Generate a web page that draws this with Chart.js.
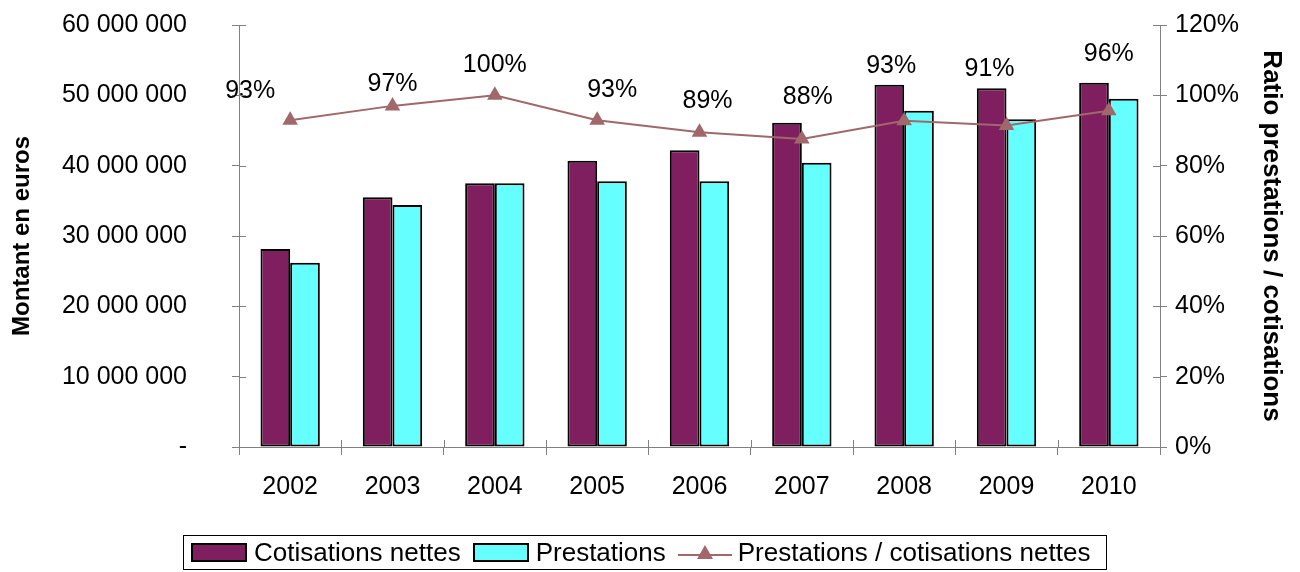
<!DOCTYPE html>
<html>
<head>
<meta charset="utf-8">
<script src="https://cdn.jsdelivr.net/npm/chart.js@4.4.1/dist/chart.umd.min.js"></script>
<style>
    body { margin: 0; background: #fff; font-family: "Liberation Sans", Arial, sans-serif; }
    #wrap { position: relative; width: 1300px; height: 572px; }
    #legend {
        position: absolute; left: 183px; top: 535px; width: 924px; height: 35px;
        border: 1px solid #000; display: flex; align-items: center;
        font-size: 26px; color: #000; box-sizing: border-box;
    }
    .sw { display: inline-block; width: 52px; height: 15px; border: 2px solid #000; margin: 0 7px 0 8px; }
</style>
</head>
<body>
<div id="wrap">
    <canvas id="chart" width="1300" height="572"></canvas>
    <div id="legend">
        <span class="sw" style="background:#7F1F5F;margin-left:7px"></span><span>Cotisations nettes</span>
        <span class="sw" style="background:#66FFFF;margin-left:12px"></span><span>Prestations</span>
        <svg width="56" height="22" style="margin:0 4px 0 12px"><line x1="0" y1="13" x2="54" y2="13" stroke="#A0686A" stroke-width="2"/><polygon points="27,3 35,17 19,17" fill="#A0686A"/></svg><span>Prestations / cotisations nettes</span>
    </div>
</div>
<script>
    // data
    const years = ['2002', '2003', '2004', '2005', '2006', '2007', '2008', '2009', '2010'];
    const cotisations = [28150000, 35500000, 37500000, 40700000, 42200000, 46100000, 51500000, 51000000, 51800000];
    const prestations = [26200000, 34400000, 37500000, 37800000, 37800000, 40400000, 47800000, 46600000, 49500000];
    const ratio = [92.9, 97.0, 100.0, 92.9, 89.5, 87.6, 92.8, 91.4, 95.6];
    const ratioLabels = ['93%', '97%', '100%', '93%', '89%', '88%', '93%', '91%', '96%'];

    // where the hand-placed labels sit relative to their point
    const labelOffsets = [[-40, -29], [0, -22], [0, -30], [15, -30], [8, -31], [6, -42], [-13, -55], [-17, -56], [0, -57]];

    const FONT = '"Liberation Sans", Arial, sans-serif';
    const lineColor = '#A0686A';

    function spaced(v) {
        if (v === 0) return '-';
        return String(v).replace(/\B(?=(\d{3})+(?!\d))/g, ' ');
    }

    // fixed axis widths, no extra padding from tick labels
    function fixY(width) {
        return s => {
            s.width = width;
            s.paddingTop = 0;
            s.paddingBottom = 0;
        };
    }

    // percent labels above the line + ticks that cross the axes
    const extras = {
        id: 'extras',
        afterDatasetsDraw(chart) {
            const ctx = chart.ctx;
            const meta = chart.getDatasetMeta(2);
            ctx.save();
            ctx.fillStyle = '#000';
            ctx.font = '25px ' + FONT;
            ctx.textAlign = 'center';
            ctx.textBaseline = 'middle';
            meta.data.forEach((pt, i) => {
                ctx.fillText(ratioLabels[i], pt.x + labelOffsets[i][0], pt.y + labelOffsets[i][1]);
            });

            ctx.strokeStyle = '#808080';
            ctx.lineWidth = 1;
            const y = chart.scales.y, y1 = chart.scales.y1, x = chart.scales.x;
            ctx.beginPath();
            y.ticks.forEach((t, i) => {
                const p = Math.round(y.getPixelForTick(i)) + 0.5;
                ctx.moveTo(y.right, p); ctx.lineTo(y.right + 7, p);
            });
            y1.ticks.forEach((t, i) => {
                const p = Math.round(y1.getPixelForTick(i)) + 0.5;
                ctx.moveTo(y1.left - 7, p); ctx.lineTo(y1.left, p);
            });
            const step = (x.right - x.left) / years.length;
            for (let i = 0; i <= years.length; i++) {
                const p = Math.round(x.left + i * step) + 0.5;
                ctx.moveTo(p, x.top - 7); ctx.lineTo(p, x.top);
            }
            ctx.stroke();
            ctx.restore();
        }
    };

    const ctx = document.getElementById('chart').getContext('2d');
    const chart = new Chart(ctx, {
        type: 'bar',
        data: {
            labels: years,
            datasets: [{
                label: 'Cotisations nettes',
                data: cotisations,
                backgroundColor: '#7F1F5F',
                borderColor: '#000',
                borderWidth: 2,
                borderSkipped: false,
                categoryPercentage: 0.58,
                barPercentage: 1.0,
                yAxisID: 'y',
                order: 1
            }, {
                label: 'Prestations',
                data: prestations,
                backgroundColor: '#66FFFF',
                borderColor: '#000',
                borderWidth: 2,
                borderSkipped: false,
                categoryPercentage: 0.58,
                barPercentage: 1.0,
                yAxisID: 'y',
                order: 1
            }, {
                type: 'line',
                label: 'Prestations / cotisations nettes',
                data: ratio,
                borderColor: lineColor,
                borderWidth: 2,
                backgroundColor: lineColor,
                pointStyle: 'triangle',
                pointRadius: 9,
                pointBorderWidth: 0,
                tension: 0,
                yAxisID: 'y1',
                order: 0
            }]
        },
        options: {
            responsive: false,
            animation: false,
            layout: { padding: { top: 25, bottom: 42, left: 0, right: 0 } },
            plugins: {
                legend: { display: false },
                tooltip: { enabled: false }
            },
            scales: {
                x: {
                    afterFit: s => { s.height = 83; },
                    grid: { display: true, drawOnChartArea: false, tickLength: 8, color: '#808080' },
                    border: { color: '#808080' },
                    ticks: { color: '#000', padding: 17, font: { family: FONT, size: 25 } }
                },
                y: {
                    position: 'left',
                    min: 0, max: 60000000,
                    afterFit: fixY(239),
                    grid: { display: true, drawOnChartArea: false, tickLength: 7, color: '#808080' },
                    border: { color: '#808080' },
                    ticks: {
                        stepSize: 10000000, color: '#000', padding: 45,
                        font: { family: FONT, size: 25 },
                        callback: v => spaced(v)
                    },
                    title: {
                        display: true, text: 'Montant en euros', color: '#000',
                        font: { family: FONT, size: 24, weight: 'bold' },
                        padding: { top: 8, bottom: 0 }
                    }
                },
                y1: {
                    position: 'right',
                    min: 0, max: 120,
                    afterFit: fixY(140),
                    grid: { display: true, drawOnChartArea: false, tickLength: 7, color: '#808080' },
                    border: { color: '#808080' },
                    ticks: {
                        stepSize: 20, color: '#000', padding: 8,
                        font: { family: FONT, size: 25 },
                        callback: v => v + '%'
                    },
                    title: {
                        display: true, text: 'Ratio prestations / cotisations', color: '#000',
                        font: { family: FONT, size: 26, weight: 'bold' },
                        padding: { top: 13, bottom: 0 }
                    }
                }
            }
        },
        plugins: [extras]
    });
</script>
</body>
</html>
